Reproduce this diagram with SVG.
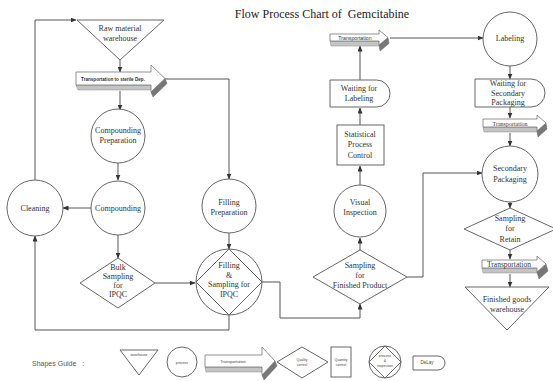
<svg xmlns="http://www.w3.org/2000/svg" width="553" height="381" viewBox="0 0 553 381">
<defs>
<marker id="ah" markerUnits="userSpaceOnUse" markerWidth="6" markerHeight="5" refX="5.5" refY="2.5" orient="auto">
<path d="M0,0 L6,2.5 L0,5 Z" fill="#333"/>
</marker>
<style>
.n{fill:#fff;stroke:#666;stroke-width:1}
.f{fill:#fff;stroke:#777;stroke-width:0.8}
.b{fill:#c4c4c4;stroke:#888;stroke-width:0.5}
.d{fill:#777;stroke:#666;stroke-width:0.5}
.c{fill:none;stroke:#555;stroke-width:1;marker-end:url(#ah)}
.l{fill:none;stroke:#555;stroke-width:1}
.t{font-family:"Liberation Serif",serif;font-size:8px;fill:#333;text-anchor:middle}
.s{font-family:"Liberation Sans",sans-serif;fill:#333;text-anchor:middle}
.g{font-family:"Liberation Sans",sans-serif;font-size:3.5px;fill:#444;text-anchor:middle}
</style>
</defs>
<rect width="553" height="381" fill="#fff"/>
<text x="322" y="18" xml:space="preserve" style="font-family:'Liberation Serif',serif;font-size:12px;fill:#222;white-space:pre" text-anchor="middle">Flow Process Chart of  Gemcitabine</text>

<g id="connectors">
<path class="c" d="M35,180 V20 H76"/>
<path class="c" d="M120,60 V72"/>
<path class="c" d="M120,91 V110"/>
<path class="c" d="M118,163 V180"/>
<path class="c" d="M91,208 H63"/>
<path class="c" d="M118,235 V258"/>
<path class="c" d="M155,283 H195"/>
<path class="c" d="M165,79 H229 V179"/>
<path class="c" d="M229,233 V249"/>
<path class="c" d="M229,315 V330 H35 V236"/>
<path class="c" d="M262,282 H280 V318 H360 V304"/>
<path class="c" d="M360,250 V238"/>
<path class="c" d="M360,185 V166"/>
<path class="c" d="M360,125 V108"/>
<path class="c" d="M360,80 V46"/>
<path class="c" d="M390,38 H483"/>
<path class="c" d="M510,66 V79"/>
<path class="c" d="M510,107 V118"/>
<path class="c" d="M510,133 V146"/>
<path class="c" d="M407,277 H423 V173 H482"/>
<path class="c" d="M510,202 V208"/>
<path class="c" d="M510,250 V259"/>
<path class="c" d="M510,274 V287"/>
</g>

<g id="raw-material">
<path class="n" d="M77,20 H164 L120,60 Z"/>
<text class="t" x="120" y="31">Raw material</text>
<text class="t" x="120" y="41">warehouse</text>
</g>

<g id="transport-sterile">
<path class="b" d="M76,85 H151 L153,90 H78 Z"/>
<path class="d" d="M165,78.5 L151,92 L153,97 L167,83.5 Z"/>
<path class="f" d="M76,72 H151 V65 L165,78.5 L151,92 V85 H76 Z"/>
<text class="s" x="113" y="80.5" style="font-size:4.6px;font-weight:bold">Transportation to sterile Dep.</text>
</g>

<g id="compounding-prep">
<circle class="n" cx="118" cy="136" r="27"/>
<text class="t" x="118" y="133">Compounding</text>
<text class="t" x="118" y="143">Preparation</text>
</g>

<g id="compounding">
<circle class="n" cx="118" cy="208" r="27"/>
<text class="t" x="118" y="211">Compounding</text>
</g>

<g id="cleaning">
<circle class="n" cx="35" cy="208" r="28"/>
<text class="t" x="35" y="211">Cleaning</text>
</g>

<g id="bulk-sampling">
<path class="n" d="M118,258 L155,283 L118,308 L80,283 Z"/>
<text class="t" x="118" y="270">Bulk</text>
<text class="t" x="118" y="279">Sampling</text>
<text class="t" x="118" y="288">for</text>
<text class="t" x="118" y="297">IPQC</text>
</g>

<g id="filling-prep">
<circle class="n" cx="229" cy="206" r="27"/>
<text class="t" x="229" y="205">Filling</text>
<text class="t" x="229" y="215">Preparation</text>
</g>

<g id="filling-sampling">
<circle class="n" cx="229" cy="282" r="33"/>
<path class="n" d="M229,249 L262,282 L229,315 L196,282 Z"/>
<text class="t" x="229" y="268">Filling</text>
<text class="t" x="229" y="278">&amp;</text>
<text class="t" x="229" y="287">Sampling for</text>
<text class="t" x="229" y="297">IPQC</text>
</g>

<g id="sampling-finished">
<path class="n" d="M360,250 L407,277 L360,304 L313,277 Z"/>
<text class="t" x="360" y="268">Sampling</text>
<text class="t" x="360" y="278">for</text>
<text class="t" x="360" y="288">Finished Product</text>
</g>

<g id="visual-inspection">
<circle class="n" cx="360" cy="211" r="26"/>
<text class="t" x="360" y="205">Visual</text>
<text class="t" x="360" y="215">Inspection</text>
</g>

<g id="spc">
<rect class="n" x="337" y="125" width="47" height="40"/>
<text class="t" x="360" y="137">Statistical</text>
<text class="t" x="360" y="147">Process</text>
<text class="t" x="360" y="158">Control</text>
</g>

<g id="waiting-labeling">
<path class="n" d="M330,80 H376.5 A13.5,13.5 0 0 1 376.5,107 H330 Z"/>
<text class="t" x="359" y="91">Waiting for</text>
<text class="t" x="359" y="101">Labeling</text>
</g>

<g id="transport-2">
<path class="b" d="M330,41 H379 L380,46 H331 Z"/>
<path class="d" d="M388,37.5 L379,45 L380,51 L389,43.5 Z"/>
<path class="f" d="M330,34 H379 V30 L388,37.5 L379,45 V41 H330 Z"/>
<text class="s" x="355" y="39.5" style="font-size:5.2px">Transportation</text>
</g>

<g id="labeling">
<circle class="n" cx="510" cy="39" r="27"/>
<text class="t" x="510" y="41">Labeling</text>
</g>

<g id="waiting-secondary">
<path class="n" d="M475,79 H531 A14,14 0 0 1 531,107 H475 Z"/>
<text class="t" x="508" y="86">Waiting for</text>
<text class="t" x="508" y="96">Secondary</text>
<text class="t" x="508" y="105">Packaging</text>
</g>

<g id="transport-3">
<path class="b" d="M483,127 H537 L538,132 H484 Z"/>
<path class="d" d="M546,123 L537,131 L538,137 L547,129 Z"/>
<path class="f" d="M483,119 H537 V115 L546,123 L537,131 V127 H483 Z"/>
<text class="t" x="510" y="125.5" style="font-size:6px">Transportation</text>
</g>

<g id="secondary-packaging">
<circle class="n" cx="510" cy="174" r="28"/>
<text class="t" x="510" y="171">Secondary</text>
<text class="t" x="510" y="182">Packaging</text>
</g>

<g id="sampling-retain">
<path class="n" d="M510,208 L556,229 L510,250 L464,229 Z"/>
<text class="t" x="510" y="221">Sampling</text>
<text class="t" x="510" y="231">for</text>
<text class="t" x="510" y="242">Retain</text>
</g>

<g id="transport-4">
<path class="b" d="M482,268 H537 L538,273 H483 Z"/>
<path class="d" d="M546,264 L537,272 L539,279 L548,271 Z"/>
<path class="f" d="M482,260 H537 V256 L546,264 L537,272 V268 H482 Z"/>
<text class="t" x="509" y="267" style="font-size:7.5px">Transportation</text>
</g>

<g id="finished-goods">
<path class="n" d="M465,287 H549 L507,330 Z"/>
<text class="t" x="507" y="302">Finished goods</text>
<text class="t" x="507" y="312">warehouse</text>
</g>

<g id="legend">
<text x="32" y="366" xml:space="preserve" style="font-family:'Liberation Sans',sans-serif;font-size:7px;fill:#555;white-space:pre">Shapes Guide   :</text>
<path class="n" d="M120,350 H158 L139,375 Z"/>
<text class="g" x="139" y="356">warehouse</text>
<circle class="n" cx="182" cy="362" r="15"/>
<text class="g" x="182" y="363.5">process</text>
<path class="b" d="M205,367 H262 L263,372 H206 Z"/>
<path class="d" d="M275,361 L262,375 L264,380 L277,366 Z"/>
<path class="f" d="M205,355 H262 V347 L275,361 L262,375 V367 H205 Z"/>
<text class="g" x="233" y="362.5" style="font-size:4px">Transportation</text>
<path class="n" d="M302,347 L328,362 L302,378 L277,362 Z"/>
<text class="g" x="302" y="361">Quality</text>
<text class="g" x="302" y="365.5">control</text>
<rect class="n" x="331" y="347" width="20" height="30"/>
<text class="g" x="341" y="361">Quantity</text>
<text class="g" x="341" y="365.5">control</text>
<circle class="n" cx="385" cy="362" r="16"/>
<path class="n" d="M385,346 L401,362 L385,378 L369,362 Z"/>
<text class="g" x="385" y="357">process</text>
<text class="g" x="385" y="362">&amp;</text>
<text class="g" x="385" y="367">inspection</text>
<path class="n" d="M413,356 H438 A7,7 0 0 1 438,370 H413 Z"/>
<text class="g" x="427" y="364" style="font-size:4.5px">DeLay</text>
</g>
</svg>
